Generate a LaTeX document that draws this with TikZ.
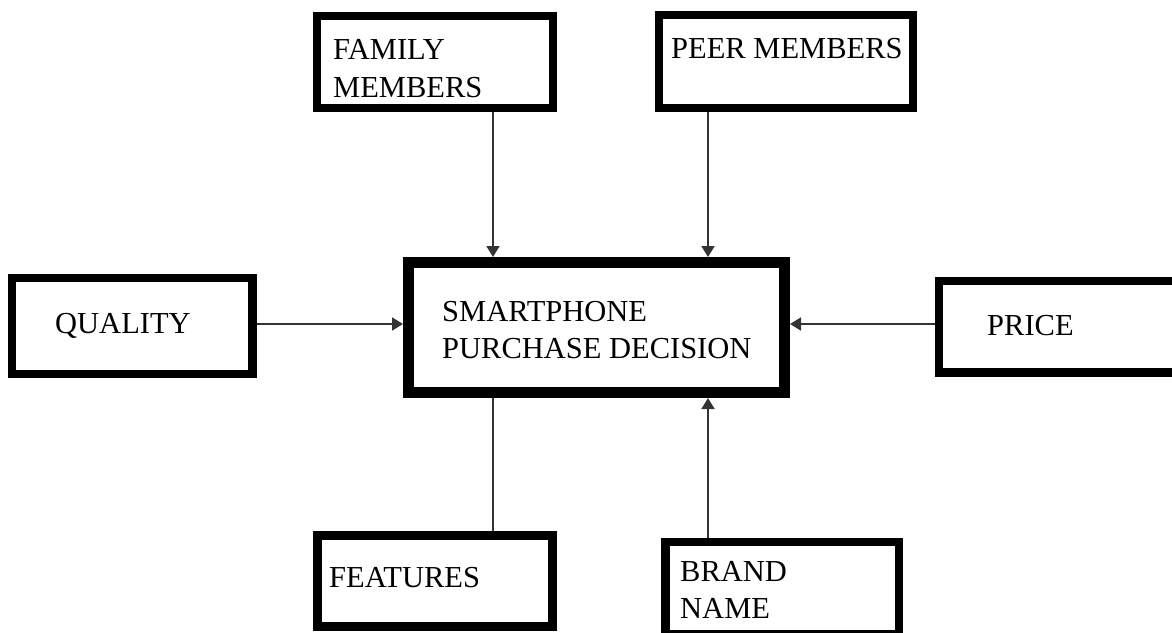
\documentclass[tikz,border=0pt]{standalone}
\usepackage{fontspec}
\setmainfont{Liberation Serif}
\usetikzlibrary{arrows.meta}
\begin{document}
\begin{tikzpicture}[x=1pt,y=-1pt,
  box/.style={draw=black, line width=8.5pt, fill=white, inner sep=0pt, outer sep=4.25pt, anchor=center},
  mainbox/.style={box, line width=11pt, outer sep=5.5pt},
  lbl/.style={anchor=base west, inner sep=0pt, font=\fontsize{30.5}{37}\selectfont},
  link/.style={line width=1.8pt, draw=black!80},
  arr/.style={link, -{Triangle[length=11pt,width=13pt]}}]
\useasboundingbox (0,0) rectangle (1172,632);
\clip (0,0) rectangle (1172,632);

% boxes
\node[box, minimum width=236pt, minimum height=92pt] (fam) at (435,62) {};
\node[box, minimum width=254pt, minimum height=93pt] (peer) at (786,61.5) {};
\node[mainbox, minimum width=376pt, minimum height=130pt] (ctr) at (596.5,327.5) {};
\node[box, minimum width=240.5pt, minimum height=96pt] (qual) at (132.25,326) {};
\node[box, minimum width=246pt, minimum height=91.5pt] (price) at (1062,326.75) {};
\node[box, minimum width=235pt, minimum height=91pt] (feat) at (435,581) {};
\node[box, minimum width=233.5pt, minimum height=92pt] (brand) at (782.25,588) {};

% labels
\node[lbl] (famA) at (333,59) {FAMILY};
\node[lbl] (famB) at (333,97) {MEMBERS};
\node[lbl] (peerA) at (671,58) {PEER MEMBERS};
\node[lbl] (ctrA) at (442,321) {SMARTPHONE};
\node[lbl] (ctrB) at (442,358) {PURCHASE DECISION};
\node[lbl] (qualA) at (55,333) {QUALITY};
\node[lbl] (priceA) at (987,335) {PRICE};
\node[lbl] (featA) at (329,587) {FEATURES};
\node[lbl] (brandA) at (680,581) {BRAND};
\node[lbl] (brandB) at (680,618) {NAME};

% connector guides
\coordinate (lx) at (493,0);
\coordinate (rx) at (708,0);
\coordinate (my) at (0,324);

% connectors
\draw[arr] (fam.south -| lx) -- (ctr.north -| lx);
\draw[arr] (peer.south -| rx) -- (ctr.north -| rx);
\draw[arr] (qual.east |- my) -- (ctr.west |- my);
\draw[arr] (price.west |- my) -- (ctr.east |- my);
\draw[link] (feat.north -| lx) -- (ctr.south -| lx);
\draw[arr] (brand.north -| rx) -- (ctr.south -| rx);
\end{tikzpicture}
\end{document}
